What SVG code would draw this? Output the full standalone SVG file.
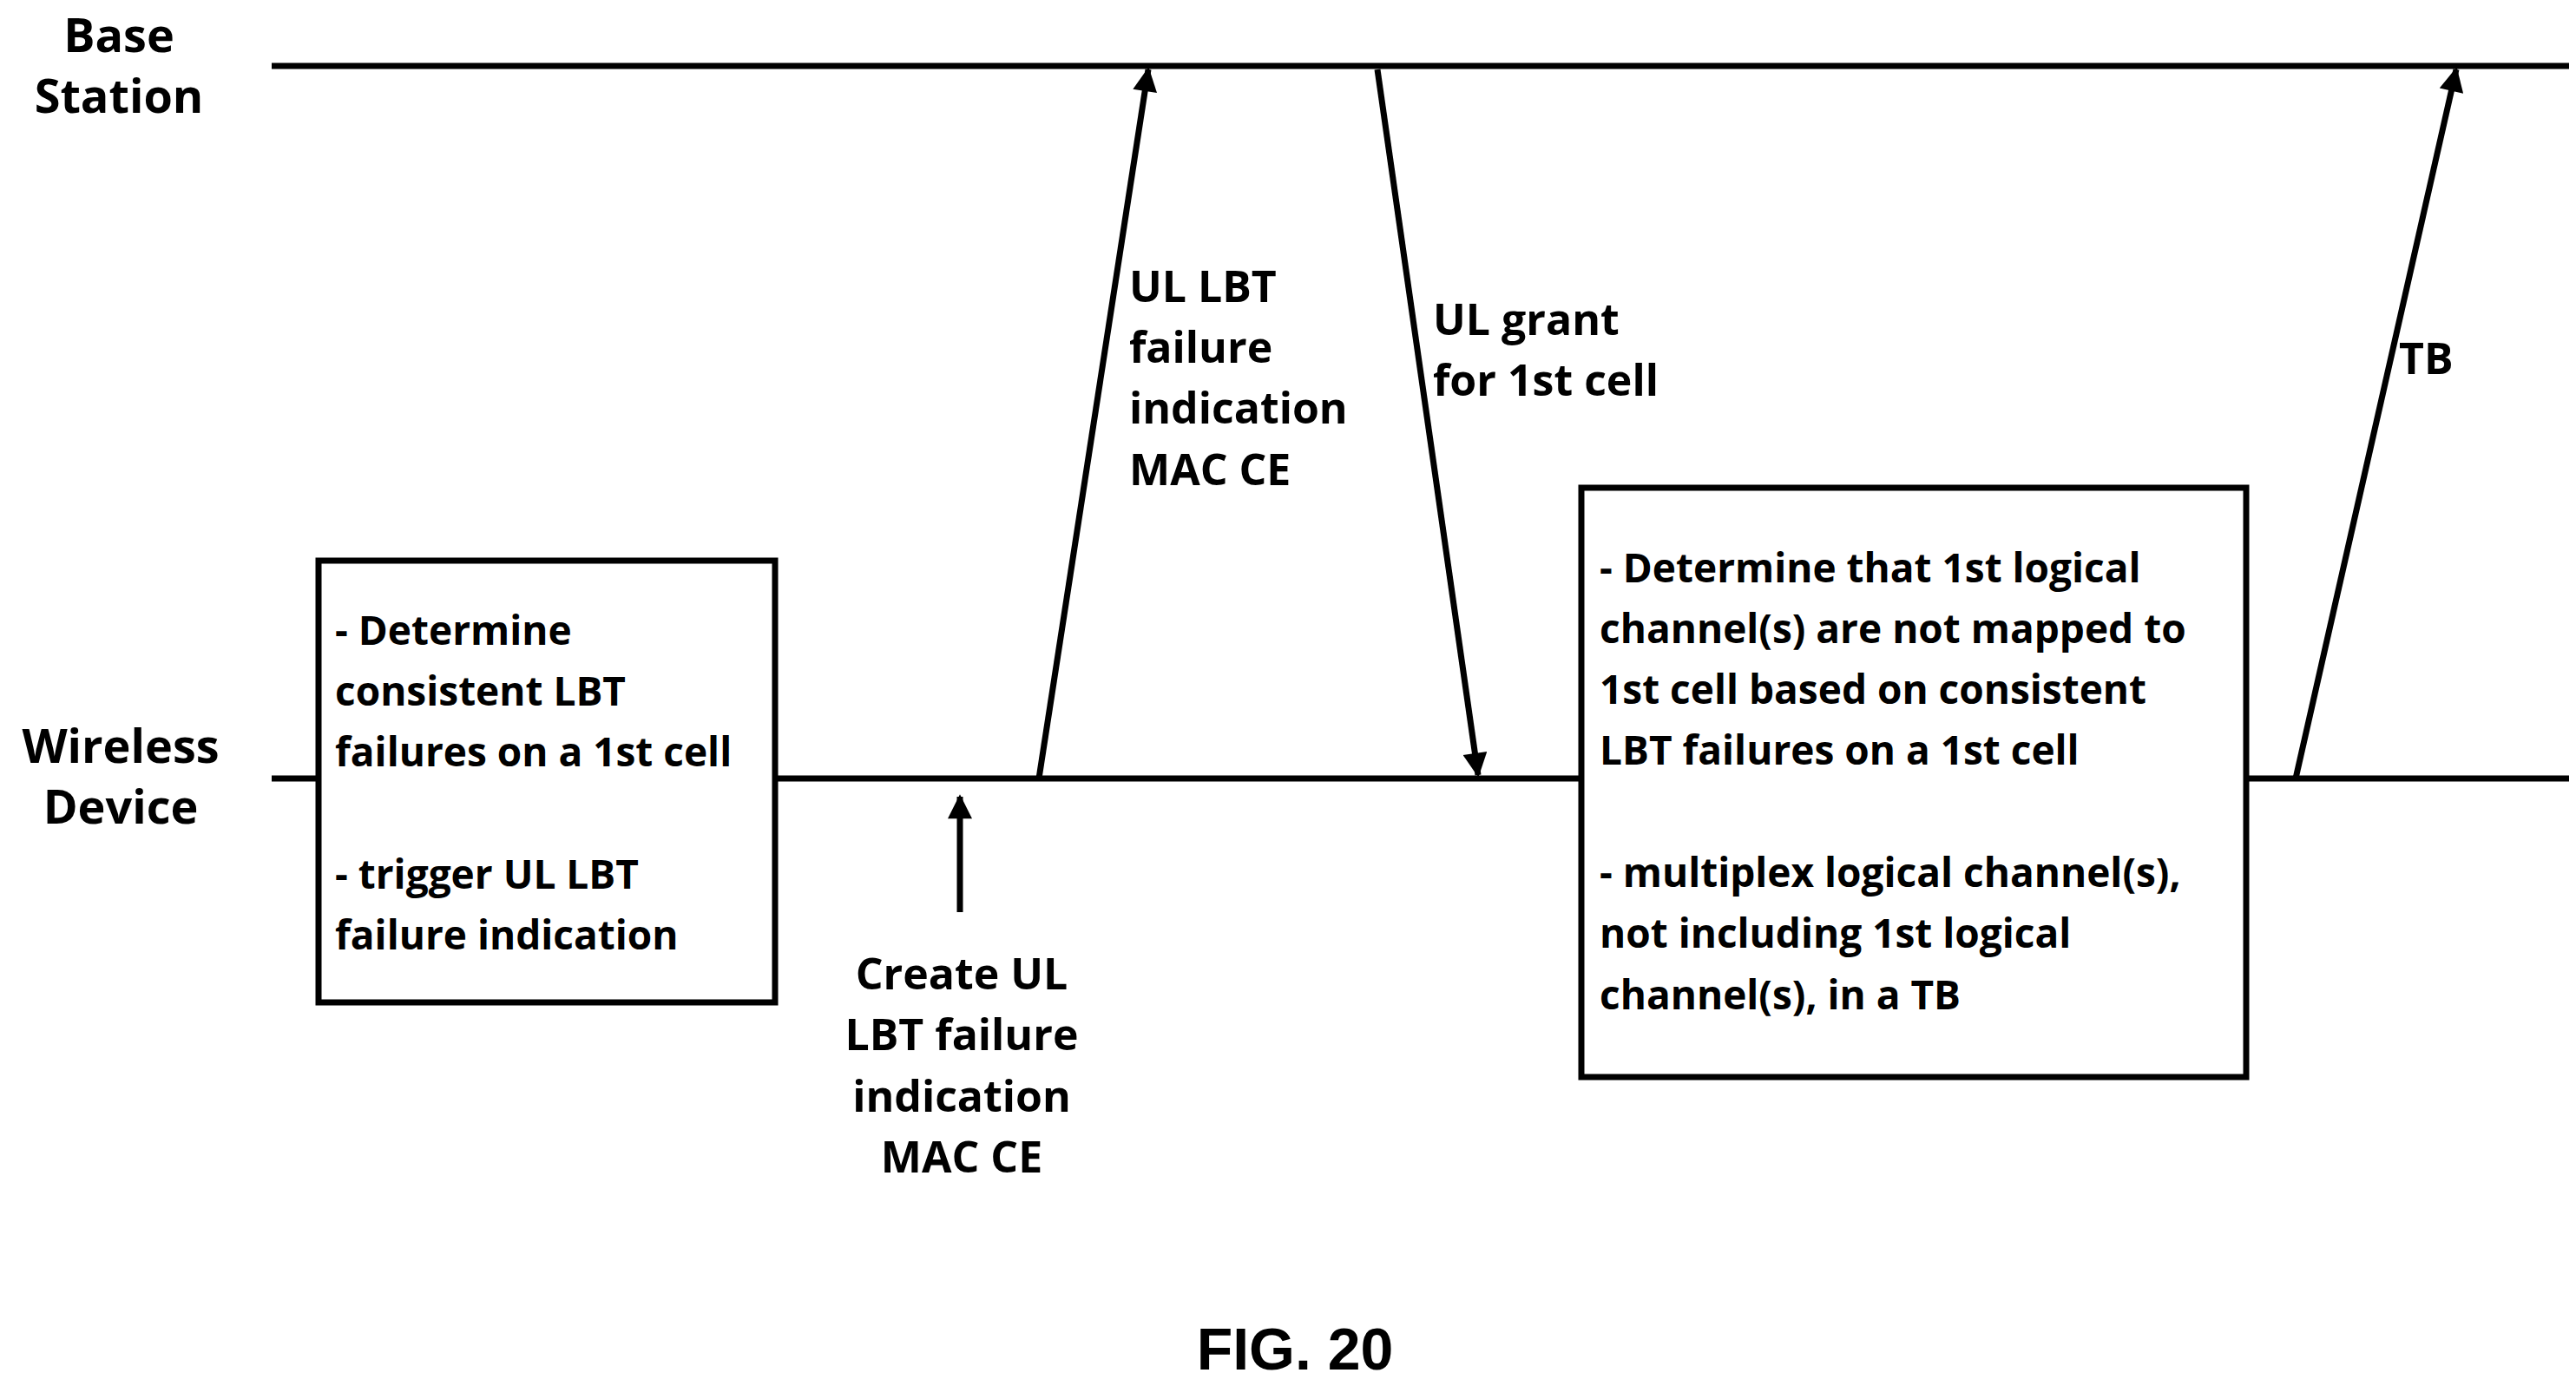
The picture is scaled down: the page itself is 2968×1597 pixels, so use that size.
<svg xmlns="http://www.w3.org/2000/svg" width="2968" height="1597" viewBox="0 0 2968 1597">
<style>
text{font-family:"Open Sans","Liberation Sans",sans-serif;font-weight:bold;fill:#000}
.t{font-size:50px}
.h{font-size:54px}
.b{font-size:46px}
.l{stroke:#000;stroke-width:7;fill:none}
.box{stroke:#000;stroke-width:7;fill:#fff}
</style>
<defs><marker id="a" viewBox="0 0 10 10" refX="9" refY="5" markerWidth="6" markerHeight="4" orient="auto" markerUnits="strokeWidth"><path d="M0,0L10,5L0,10z" fill="#000"/></marker></defs>
<g id="base-station"><line class="l" x1="313" y1="76" x2="2960" y2="76"/><text class="h" x="137" y="60" text-anchor="middle">Base</text><text class="h" x="137" y="130" text-anchor="middle">Station</text></g>
<g id="wireless-device"><line class="l" x1="313" y1="897" x2="2960" y2="897"/><text class="h" x="139" y="879" text-anchor="middle">Wireless</text><text class="h" x="139" y="949" text-anchor="middle">Device</text></g>
<g id="box1"><rect class="box" x="367" y="646" width="526" height="509"/>
<text class="b" x="386" y="743">- Determine</text><text class="b" x="386" y="813">consistent LBT</text><text class="b" x="386" y="883">failures on a 1st cell</text><text class="b" x="386" y="1024">- trigger UL LBT</text><text class="b" x="386" y="1094">failure indication</text></g>
<g id="box2"><rect class="box" x="1822" y="562" width="766" height="679"/>
<text class="b" x="1843" y="671">- Determine that 1st logical</text><text class="b" x="1843" y="741">channel(s) are not mapped to</text><text class="b" x="1843" y="811">1st cell based on consistent</text><text class="b" x="1843" y="881">LBT failures on a 1st cell</text><text class="b" x="1843" y="1022">- multiplex logical channel(s),</text><text class="b" x="1843" y="1092">not including 1st logical</text><text class="b" x="1843" y="1163">channel(s), in a TB</text></g>
<g id="create"><text class="t" x="1108" y="1140" text-anchor="middle">Create UL</text><text class="t" x="1108" y="1210" text-anchor="middle">LBT failure</text><text class="t" x="1108" y="1281" text-anchor="middle">indication</text><text class="t" x="1108" y="1351" text-anchor="middle">MAC CE</text></g>
<g id="connectors">
<line class="l" x1="1106" y1="1051" x2="1106" y2="918" marker-end="url(#a)"/>
<line class="l" x1="1197" y1="897" x2="1323" y2="80" marker-end="url(#a)"/>
<line class="l" x1="1587" y1="80" x2="1703" y2="893" marker-end="url(#a)"/>
<line class="l" x1="2645" y1="897" x2="2830" y2="80" marker-end="url(#a)"/>
<text class="t" x="1301" y="348">UL LBT</text><text class="t" x="1301" y="418">failure</text><text class="t" x="1301" y="488">indication</text><text class="t" x="1301" y="559">MAC CE</text>
<text class="t" x="1651" y="386">UL grant</text><text class="t" x="1651" y="456">for 1st cell</text>
<text class="t" x="2764" y="431">TB</text>
</g>
<text x="1492" y="1578" text-anchor="middle" style="font-family:'Liberation Sans',sans-serif;font-size:68px">FIG. 20</text>
</svg>
